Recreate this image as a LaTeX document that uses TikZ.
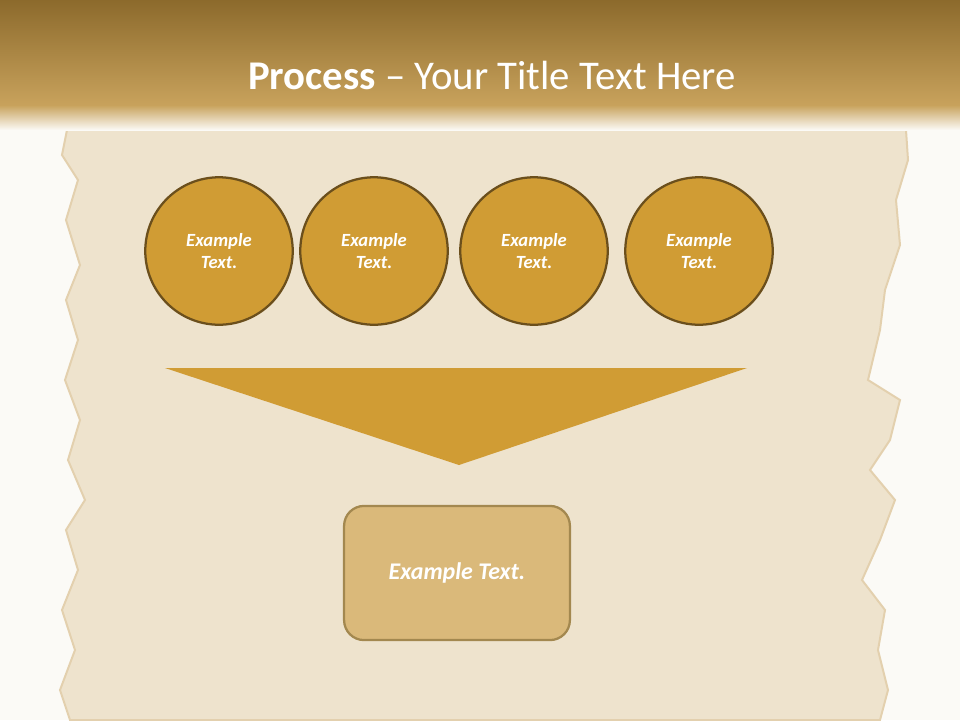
\documentclass[tikz,border=0pt]{standalone}
\usepackage{fontspec}
\setmainfont{Carlito}
\usetikzlibrary{positioning}
\definecolor{paper}{HTML}{FBFAF6}
\definecolor{parch}{HTML}{EEE3CD}
\definecolor{parchedge}{HTML}{E3D0AE}
\definecolor{bandtop}{HTML}{8C6A2C}
\definecolor{bandbot}{HTML}{C8A25C}
\definecolor{gold}{HTML}{D09C34}
\definecolor{goldline}{HTML}{6B4F1C}
\definecolor{sand}{HTML}{DAB97A}
\definecolor{sandline}{HTML}{A3884F}
\tikzset{
  stepcircle/.style={circle, fill=gold, draw=goldline, line width=1.7pt,
    minimum size=111pt, inner sep=0pt, text=white, align=center,
    font=\fontsize{14}{17}\selectfont\bfseries\itshape},
  resultbox/.style={rectangle, rounded corners=15pt, fill=sand, draw=sandline,
    line width=1.7pt, minimum width=170pt, minimum height=101pt, text=white,
    font=\fontsize{18}{21}\selectfont\bfseries\itshape}
}
\begin{document}
\begin{tikzpicture}[x=0.264583mm, y=-0.264583mm]
   % page and parchment
   \fill[paper] (0,0) rectangle (960,720);
   \useasboundingbox (0,0) rectangle (960,720);
   \fill[parch, draw=parchedge, line width=1.5pt]
     (70,115) -- (905,115) -- (908,160) -- (896,200) -- (900,245)
     -- (885,290) -- (880,330) -- (868,380) -- (900,400) -- (890,440)
     -- (870,470) -- (895,500) -- (880,540) -- (862,580) -- (885,610)
     -- (878,650) -- (888,690) -- (880,720) -- (70,720) -- (60,690)
     -- (75,650) -- (62,610) -- (78,570) -- (66,530) -- (85,500)
     -- (68,460) -- (80,420) -- (65,380) -- (78,340) -- (66,300)
     -- (80,265) -- (66,220) -- (78,180) -- (62,155) -- cycle;
   % title band
   \shade[top color=bandtop, bottom color=bandbot] (0,0) rectangle (960,105);
   \shade[top color=bandbot, bottom color=paper] (0,105) rectangle (960,130);
   \node[text=white, font=\fontsize{30.7}{36}\selectfont] (title) at (492,75)
     {\textbf{Process} -- Your Title Text Here};
   % steps
   \node[stepcircle] (stepA) at (219,251) {Example\\Text.};
   \node[stepcircle] (stepB) at (374,251) {Example\\Text.};
   \node[stepcircle] (stepC) at (534,251) {Example\\Text.};
   \node[stepcircle] (stepD) at (699,251) {Example\\Text.};
   % funnel
   \fill[gold] (165,368) -- (747,368) -- (459,465) -- cycle;
   % result
   \node[resultbox] (result) at (457,573) {Example Text.};
\end{tikzpicture}
\end{document}
